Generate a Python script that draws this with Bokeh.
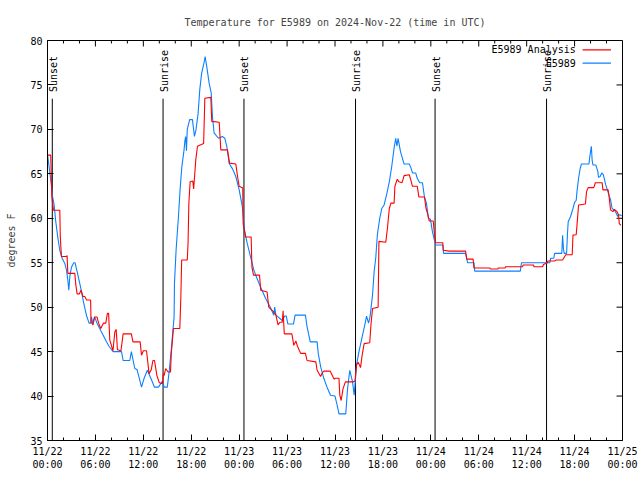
import math
from bokeh.plotting import figure
from bokeh.models import FixedTicker, Range1d, ColumnDataSource, Label
from bokeh.core.properties import value
from bokeh.embed import file_html
from bokeh.resources import INLINE

# ---- data (hours since 2024-11-22 00:00 UTC) ----
obs_hours = [0.0, 0.2, 0.3, 0.5, 0.6, 0.83, 1.04, 1.33, 1.54, 1.83, 2.17, 2.38, 2.55, 2.67, 2.8, 3.0, 3.29, 3.45,
             3.71, 4.13, 4.55, 4.9, 5.21, 5.4, 5.5, 5.65, 5.9, 6.2, 6.76, 7.39, 7.7, 8.22, 9.27, 9.47, 10.3, 10.5,
             10.93, 11.2, 11.5, 11.77, 12.1, 12.5, 12.94, 13.4, 13.9, 14.4, 14.6, 15.0, 15.23, 15.5, 15.85, 15.9,
             16.1, 16.4, 16.6, 16.82, 17.1, 17.2, 17.3, 17.4, 17.5, 17.8, 18.15, 18.4, 18.6, 18.86, 19.07, 19.3,
             19.6, 19.74, 19.95, 20.24, 20.5, 20.65, 20.86, 21.4, 21.9, 22.2, 22.45, 22.74, 23.2, 23.58, 24.0,
             24.4, 24.66, 25.0, 25.42, 25.83, 26.25, 26.67, 27.3, 27.9, 28.34, 28.45, 28.6, 29.4, 29.7, 29.9,
             30.1, 30.8, 31.0, 32.3, 32.5, 32.9, 33.76, 33.9, 34.2, 34.6, 35.0, 35.44, 36.0, 36.26, 36.5, 37.35,
             37.57, 37.85, 38.2, 38.4, 38.7, 39.0, 39.36, 39.8, 39.95, 40.2, 40.4, 40.7, 40.9, 41.1, 41.3, 41.6,
             41.86, 42.15, 42.45, 42.8, 43.1, 43.4, 43.6, 43.75, 43.9, 44.2, 44.65, 45.3, 45.5, 45.7, 46.1, 46.3,
             46.6, 46.95, 47.2, 47.45, 47.7, 47.95, 48.2, 48.4, 48.6, 49.5, 49.6, 52.35, 52.6, 53.4, 53.5, 59.2,
             59.35, 62.9, 63.0, 63.4, 63.5, 64.4, 64.5, 64.6, 64.7, 65.0, 65.1, 65.2, 65.5, 65.8, 66.0, 66.2,
             66.3, 66.5, 66.7, 66.85, 67.8, 67.9, 68.1, 68.2, 68.3, 68.65, 68.9, 69.0, 69.2, 69.4, 69.6, 69.9,
             70.1, 70.3, 70.5, 70.7, 71.0, 71.2, 71.4, 71.6, 71.9]
obs_temp = [67.2, 65.8, 65.1, 63.6, 62.6, 61.5, 59.6, 57.6, 56.4, 55.5, 54.9, 54.2, 53.0, 51.9, 53.5, 54.5, 55.0, 55.0,
            54.0, 52.3, 50.4, 49.0, 48.2, 48.2, 48.9, 48.2, 48.9, 48.2, 47.2, 46.1, 45.6, 45.0, 45.0, 44.0, 44.0, 45.0,
            43.1, 43.0, 42.0, 41.0, 42.0, 42.9, 42.0, 41.0, 41.0, 41.7, 41.0, 41.0, 42.7, 45.2, 48.9, 52.7,
            56.4, 60.2, 63.2, 65.8, 67.7, 68.7, 69.2, 67.6, 70.0, 71.1, 71.1, 69.2, 70.0, 71.8, 74.5, 76.3,
            77.5, 78.2, 77.0, 75.2, 74.1, 71.5, 69.6, 69.0, 69.2, 69.0, 68.1, 66.2, 65.5, 64.7, 63.2,
            61.3, 58.7, 57.2, 55.7, 54.2, 53.2, 52.3, 51.0, 50.0, 49.1, 50.0, 49.1, 48.5, 49.0, 49.0,
            48.1, 48.1, 49.1, 49.1, 47.8, 46.1, 46.1, 44.8, 43.3, 42.0, 41.0, 40.1, 40.0, 39.0, 38.0, 38.0,
            40.8, 42.9, 41.6, 40.1, 43.5, 45.0, 46.5, 48.3, 49.0, 48.2, 49.0, 51.35, 54.0, 55.5, 58.1, 60.0,
            61.1, 61.5, 62.6, 64.1, 65.8, 67.9, 69.0, 68.1, 69.0, 67.5, 66.1, 66.1, 65.7, 65.1, 65.1, 64.5,
            64.0, 64.0, 62.4, 61.7, 60.0, 59.9, 58.5, 57.7, 57.0, 57.0, 56.05, 56.05, 55.0, 55.0, 54.05, 54.05,
            55.0, 55.0, 55.5, 55.5, 56.05, 56.05, 58.1, 56.6, 56.05, 56.05, 58.1, 59.6, 60.2, 61.1, 61.8, 62.0,
            63.0, 64.5, 65.6, 66.1, 66.1, 66.9, 68.1, 66.5, 66.0, 66.0, 65.3, 64.6, 64.7, 65.1, 64.9, 63.75,
            63.2, 62.6, 62.1, 61.1, 60.9, 60.6, 60.2, 60.4, 60.3]

ana_hours = [0.0, 0.4, 0.45, 0.55, 0.65, 0.75, 1.54, 1.6, 1.67, 1.75, 2.38, 2.45, 2.55, 3.42, 3.55, 3.71, 4.0, 4.2,
             4.45, 4.67, 4.9, 5.21, 5.4, 5.45, 5.7, 5.9, 6.2, 6.4, 6.67, 7.0, 7.3, 7.5, 7.65, 7.8, 8.2, 8.43, 8.6,
             8.76, 9.2, 9.47, 10.5, 10.7, 11.6, 11.77, 12.0, 12.4, 12.72, 13.0, 13.2, 13.4, 13.7, 14.0, 14.4, 14.5,
             14.6, 14.8, 15.1, 15.4, 15.5, 15.77, 16.57, 16.7, 16.8, 17.5, 17.6, 17.7, 17.86, 18.2, 18.3, 18.57,
             18.78, 19.55, 19.7, 20.45, 20.57, 21.5, 21.7, 22.54, 22.8, 23.58, 23.8, 24.0, 24.45, 24.5, 24.8, 25.5,
             25.6, 25.8, 26.55, 26.7, 27.5, 27.7, 28.3, 28.6, 28.87, 29.1, 29.4, 29.5, 29.65, 30.6, 30.84, 31.1,
             31.3, 31.7, 32.3, 32.5, 33.6, 33.76, 34.2, 34.4, 34.6, 35.4, 35.9, 36.0, 36.5, 36.6, 36.77, 37.0,
             37.3, 38.3, 38.5, 38.7, 38.9, 39.2, 39.4, 39.65, 40.35, 40.5, 40.7, 41.4, 41.5, 42.36, 42.57, 42.8,
             43.0, 43.4, 43.5, 43.8, 44.0, 44.4, 44.65, 45.3, 45.5, 45.7, 46.3, 46.5, 47.2, 47.4, 47.6, 47.8,
             48.3, 48.45, 48.6, 49.5, 49.55, 50.3, 52.35, 52.5, 53.3, 53.4, 55.4, 55.45, 56.4, 56.45, 57.3, 57.35,
             59.5, 59.55, 60.85, 60.9, 62.0, 62.1, 62.6, 62.65, 63.5, 63.7, 64.5, 64.9, 65.7, 65.8, 66.2, 66.3,
             66.5, 67.35, 67.5, 67.7, 68.4, 68.6, 69.45, 69.55, 70.2, 70.3, 70.5, 70.8, 71.0, 71.3, 71.5, 71.6,
             71.8]
ana_temp = [67.1, 67.1, 65.5, 62.4, 61.6, 60.9, 60.9, 58.0, 56.8, 55.7, 55.7, 55.8, 53.8, 53.8, 52.5, 51.5, 51.5, 51.9,
            51.2, 51.2, 50.8, 50.8, 50.8, 48.3, 48.0, 48.9, 48.9, 48.2, 47.6, 48.2, 48.2, 49.3, 49.3, 46.3, 45.1, 47.2, 47.5,
            45.2, 45.1, 47.0, 47.0, 46.1, 46.1, 44.6, 45.1, 45.1, 42.5, 43.0, 44.0, 44.0, 42.3, 41.5, 41.4, 42.5,
            42.3, 43.1, 42.7, 42.7, 44.8, 47.6, 47.6, 51.2, 55.3, 55.3, 57.2, 61.7, 64.1, 64.2, 63.3, 66.6,
            68.1, 68.4, 73.5, 73.6, 70.9, 70.8, 67.7, 67.7, 66.2, 66.1, 64.7, 63.6, 63.4, 59.4, 57.9, 57.9,
            54.5, 53.6, 53.6, 51.9, 51.7, 50.0, 49.5, 49.1, 48.0, 48.3, 48.3, 49.6, 47.0, 47.0, 45.7, 46.2,
            45.6, 44.8, 44.8, 44.0, 43.85, 42.9, 42.2, 42.6, 42.8, 42.8, 41.9, 42.0, 42.0, 40.1, 39.5, 40.8,
            41.6, 41.6, 41.7, 43.5, 43.8, 43.2, 44.6, 45.9, 46.0, 48.0, 49.85, 50.0, 57.4, 57.3, 58.9, 61.1,
            61.7, 61.7, 63.6, 64.4, 64.1, 64.0, 64.8, 64.9, 64.3, 63.6, 63.6, 62.4, 62.4, 61.1, 60.5, 59.7,
            59.7, 58.3, 57.25, 57.25, 56.4, 56.3, 56.3, 55.4, 55.4, 54.4, 54.4, 54.3, 54.3, 54.4, 54.4, 54.55,
            54.55, 54.75, 54.75, 54.55, 54.55, 54.8, 55.0, 55.2, 55.2, 55.3, 55.3, 55.9, 55.9, 58.1, 58.15, 59.2,
            61.5, 61.6, 63.0, 63.45, 63.45, 64.0, 64.0, 63.2, 63.2, 62.6, 60.95, 60.75, 61.0, 60.75, 60.4, 59.4,
            59.2]

sun_hours = [0.6, 14.47, 24.6, 38.57, 48.53, 62.49]
sun_names = ["Sunset", "Sunrise", "Sunset", "Sunrise", "Sunset", "Sunrise"]

tick_hours = [0, 6, 12, 18, 24, 30, 36, 42, 48, 54, 60, 66, 72]
tick_labels = ["11/22\n00:00", "11/22\n06:00", "11/22\n12:00", "11/22\n18:00",
               "11/23\n00:00", "11/23\n06:00", "11/23\n12:00", "11/23\n18:00",
               "11/24\n00:00", "11/24\n06:00", "11/24\n12:00", "11/24\n18:00",
               "11/25\n00:00"]
minor_hours = [h for h in range(0, 73, 2) if h % 6 != 0]
y_ticks = [35, 40, 45, 50, 55, 60, 65, 70, 75, 80]

series_names = ["E5989 Analysis", "E5989"]
series_colors = ["#ff0000", "#0a80ff"]

FONT = "DejaVu Sans Mono"
FS = "10px"

X0, X1, Y0, Y1 = 0, 72, 35, 80
FRAME_W, FRAME_H = 575, 400

p = figure(width=640, height=480, output_backend="svg", toolbar_location=None,
           x_range=Range1d(X0, X1), y_range=Range1d(Y0, Y1),
           min_border_left=47, min_border_right=18, min_border_top=40, min_border_bottom=40,
           title="Temperature for E5989 on 2024-Nov-22 (time in UTC)")
p.title.align = "center"
p.title.text_font = FONT
p.title.text_font_size = FS
p.title.text_font_style = "normal"
p.title.standoff = 26
p.grid.visible = False
p.outline_line_color = "black"
p.outline_line_width = 1
p.background_fill_color = "white"
p.border_fill_color = "white"

xt = FixedTicker(ticks=tick_hours, minor_ticks=minor_hours)
yt = FixedTicker(ticks=y_ticks, minor_ticks=[])

def style_axis(ax):
    ax.axis_line_color = "black"
    ax.major_tick_in = 6
    ax.major_tick_out = 0
    ax.minor_tick_in = 3
    ax.minor_tick_out = 0
    ax.major_tick_line_color = "black"
    ax.minor_tick_line_color = "black"
    ax.major_label_text_font = FONT
    ax.major_label_text_font_size = FS
    ax.major_label_text_color = "black"
    ax.axis_label_text_font = FONT
    ax.axis_label_text_font_size = FS
    ax.axis_label_text_font_style = "normal"

xa = p.xaxis[0]
xa.ticker = xt
xa.major_label_overrides = {h: lab for h, lab in zip(tick_hours, tick_labels)}
xa.major_label_standoff = 5
style_axis(xa)

ya = p.yaxis[0]
ya.ticker = yt
ya.axis_label = "degrees F"
ya.axis_label_standoff = 10
ya.major_label_standoff = 5
style_axis(ya)

# mirrored inward ticks on top and right edges (lengths in pixels converted to data units)
px_x = (X1 - X0) / FRAME_W
px_y = (Y1 - Y0) / FRAME_H
top_major = ColumnDataSource(dict(x=tick_hours, y0=[Y1] * len(tick_hours),
                                  y1=[Y1 - 6 * px_y] * len(tick_hours)))
top_minor = ColumnDataSource(dict(x=minor_hours, y0=[Y1] * len(minor_hours),
                                  y1=[Y1 - 3 * px_y] * len(minor_hours)))
right_major = ColumnDataSource(dict(y=y_ticks, x0=[X1] * len(y_ticks),
                                    x1=[X1 - 6 * px_x] * len(y_ticks)))
p.segment(x0="x", y0="y0", x1="x", y1="y1", source=top_major, line_color="black", line_width=1)
p.segment(x0="x", y0="y0", x1="x", y1="y1", source=top_minor, line_color="black", line_width=1)
p.segment(x0="x0", y0="y", x1="x1", y1="y", source=right_major, line_color="black", line_width=1)

# sunrise / sunset markers
sun_src = ColumnDataSource(dict(x=sun_hours, name=sun_names,
                                y0=[35] * len(sun_hours), y1=[73.45] * len(sun_hours),
                                ty=[74.2] * len(sun_hours)))
p.segment(x0="x", y0="y0", x1="x", y1="y1", source=sun_src, line_color="black", line_width=1)
p.text(x="x", y="ty", text="name", source=sun_src, angle=math.pi / 2,
       text_align="left", text_baseline="middle", text_font=value(FONT),
       text_font_size=FS, text_color="black", x_offset=1)

# series
p.line(obs_hours, obs_temp, line_color=series_colors[1], line_width=1.1)
p.line(ana_hours, ana_temp, line_color=series_colors[0], line_width=1.1)

# gnuplot-style key (text left, sample right), top-right corner
key_text_x = 66.15
key_line_x0, key_line_x1 = 67.0, 70.55
key_rows = [78.95, 77.45]
for name, col, yy in zip(series_names, series_colors, key_rows):
    p.add_layout(Label(x=key_text_x, y=yy, text=name, text_align="right", text_baseline="middle",
                       text_font=FONT, text_font_size=FS, text_color="black"))
key_src = ColumnDataSource(dict(x0=[key_line_x0] * 2, x1=[key_line_x1] * 2, y=key_rows, c=series_colors))
p.segment(x0="x0", y0="y", x1="x1", y1="y", color="c", source=key_src, line_width=1.1)

open("out.html", "w").write(file_html(p, INLINE))
